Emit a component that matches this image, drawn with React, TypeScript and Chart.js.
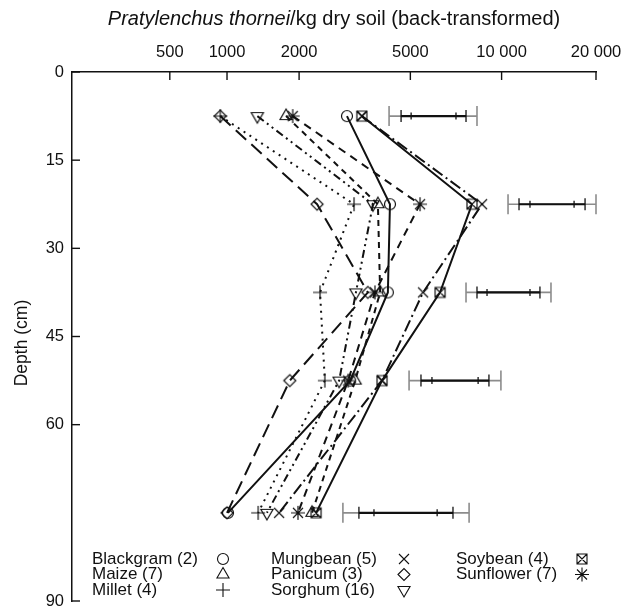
import React, { useEffect, useRef } from 'react';
import { Chart, registerables } from 'chart.js';

Chart.register(...registerables);

// ---------- data ----------
const depths = [7.5, 22.5, 37.5, 52.5, 75];

const blackgram = [3010, 4260, 4190, 3090, 1010];
const maize = [1780, 3870, 3940, 3220, 2240];
const millet = [930, 3190, 2400, 2500, 1370];
const mungbean = [3400, 8640, 5520, 4000, 1670];
const panicum = [930, 2340, 3570, 1840, 1000];
const sorghum = [1360, 3720, 3240, 2820, 1490];
const soybean = [3400, 8010, 6290, 4000, 2320];
const sunflower = [1890, 5390, 3780, 3040, 1980];

const seriesNames = [
  'Blackgram (2)', 'Maize (7)', 'Millet (4)',
  'Mungbean (5)', 'Panicum (3)', 'Sorghum (16)',
  'Soybean (4)', 'Sunflower (7)',
];
const seriesValues = [blackgram, maize, millet, mungbean, panicum, sorghum, soybean, sunflower];

// LSD bars (outer, middle, inner ... inner, middle, outer)
const lsdDepths = [7.5, 22.5, 37.5, 52.5, 75];
const lsd1 = [4230, 4650, 5030, 7100, 7660, 8320];
const lsd2 = [10490, 11380, 12340, 17050, 18470, 20000];
const lsd3 = [7660, 8320, 8970, 12340, 13280, 14400];
const lsd4 = [4950, 5430, 5910, 8390, 9100, 9950];
const lsd5 = [2910, 3320, 3750, 6150, 6940, 7840];
const lsdBars = [lsd1, lsd2, lsd3, lsd4, lsd5];

const xTickValues = [500, 1000, 2000, 5000, 10000, 20000];
const yTickValues = [0, 15, 30, 45, 60, 90];

const xTitleItalic = 'Pratylenchus thornei';
const xTitleRest = '/kg dry soil (back-transformed)';
const yTitle = 'Depth (cm)';

// ---------- helpers ----------
const OFFSET = 500;
const tf = (v: number) => Math.log10(v + OFFSET);
const fmt = (v: number) => (v >= 10000 ? String(v).replace(/(\d)(?=(\d{3})+$)/g, '$1 ') : String(v));

const FONT = "'Liberation Sans', Arial, Helvetica, sans-serif";
const INK = '#111';

type MarkerKind = 'circle' | 'triangle' | 'cross' | 'crossRot' | 'diamond' | 'triDown' | 'boxX' | 'star';
const markerKinds: MarkerKind[] = ['circle', 'triangle', 'cross', 'crossRot', 'diamond', 'triDown', 'boxX', 'star'];
const dashes: number[][] = [[], [6, 5], [2, 5], [12, 4, 2, 4], [14, 7], [8, 4, 2, 4, 2, 4], [], [8, 6]];

function drawMarker(ctx: CanvasRenderingContext2D, kind: MarkerKind, x: number, y: number) {
  ctx.beginPath();
  const r = 6;
  switch (kind) {
    case 'circle':
      ctx.arc(x, y, 5.5, 0, Math.PI * 2);
      break;
    case 'triangle':
    case 'triDown': {
      const s = kind === 'triangle' ? 1 : -1;
      const R = 7;
      ctx.moveTo(x, y - s * R);
      ctx.lineTo(x + R * Math.sin((2 * Math.PI) / 3), y + s * R * 0.5);
      ctx.lineTo(x - R * Math.sin((2 * Math.PI) / 3), y + s * R * 0.5);
      ctx.closePath();
      break;
    }
    case 'cross':
      ctx.moveTo(x - 7, y); ctx.lineTo(x + 7, y);
      ctx.moveTo(x, y - 7); ctx.lineTo(x, y + 7);
      break;
    case 'crossRot':
      ctx.moveTo(x - 5, y - 5); ctx.lineTo(x + 5, y + 5);
      ctx.moveTo(x + 5, y - 5); ctx.lineTo(x - 5, y + 5);
      break;
    case 'diamond':
      ctx.moveTo(x - r, y); ctx.lineTo(x, y - r); ctx.lineTo(x + r, y); ctx.lineTo(x, y + r);
      ctx.closePath();
      break;
    case 'boxX':
      ctx.rect(x - 5, y - 5, 10, 10);
      ctx.moveTo(x - 5, y - 5); ctx.lineTo(x + 5, y + 5);
      ctx.moveTo(x + 5, y - 5); ctx.lineTo(x - 5, y + 5);
      break;
    case 'star':
      ctx.moveTo(x - 7, y); ctx.lineTo(x + 7, y);
      ctx.moveTo(x, y - 7); ctx.lineTo(x, y + 7);
      ctx.moveTo(x - 5, y - 5); ctx.lineTo(x + 5, y + 5);
      ctx.moveTo(x + 5, y - 5); ctx.lineTo(x - 5, y + 5);
      break;
  }
  ctx.stroke();
}

function markerImage(kind: MarkerKind): HTMLCanvasElement {
  const c = document.createElement('canvas');
  c.width = 18; c.height = 18;
  const g = c.getContext('2d') as CanvasRenderingContext2D;
  g.strokeStyle = INK;
  g.lineWidth = 1.2;
  drawMarker(g, kind, 9, 9);
  return c;
}

const decorPlugin = {
  id: 'decor',
  afterDraw(chart: any) {
    const ctx: CanvasRenderingContext2D = chart.ctx;
    const xs = chart.scales.x;
    const ys = chart.scales.y;
    const area = chart.chartArea;
    ctx.save();
    const seg = (x1: number, y1: number, x2: number, y2: number) => {
      ctx.beginPath(); ctx.moveTo(x1, y1); ctx.lineTo(x2, y2); ctx.stroke();
    };
    // inward ticks
    ctx.strokeStyle = INK; ctx.lineWidth = 1.4; ctx.setLineDash([]);
    xTickValues.forEach((v) => {
      const px = xs.getPixelForValue(tf(v));
      seg(px, area.top, px, area.top + 8);
    });
    yTickValues.forEach((v) => {
      const py = ys.getPixelForValue(v);
      seg(area.left, py, area.left + 8, py);
    });

    // LSD bars
    lsdBars.forEach((bar, i) => {
      const py = ys.getPixelForValue(lsdDepths[i]);
      const p = bar.map((v) => xs.getPixelForValue(tf(v)));
      ctx.strokeStyle = '#8c8c8c'; ctx.lineWidth = 1.6;
      seg(p[0], py, p[5], py);
      seg(p[0], py - 10, p[0], py + 10);
      seg(p[5], py - 10, p[5], py + 10);
      ctx.strokeStyle = INK; ctx.lineWidth = 2.2;
      seg(p[1], py, p[4], py);
      ctx.lineWidth = 1.3;
      seg(p[1], py - 6, p[1], py + 6);
      seg(p[4], py - 6, p[4], py + 6);
      seg(p[2], py - 3.5, p[2], py + 3.5);
      seg(p[3], py - 3.5, p[3], py + 3.5);
    });

    // x title (mixed italic)
    ctx.fillStyle = INK;
    ctx.textBaseline = 'middle';
    ctx.textAlign = 'left';
    ctx.font = `italic 20px ${FONT}`;
    const w1 = ctx.measureText(xTitleItalic).width;
    ctx.font = `20px ${FONT}`;
    const w2 = ctx.measureText(xTitleRest).width;
    const cx = (area.left + area.right) / 2;
    const startX = cx - (w1 + w2) / 2;
    ctx.font = `italic 20px ${FONT}`;
    ctx.fillText(xTitleItalic, startX, 19);
    ctx.font = `20px ${FONT}`;
    ctx.fillText(xTitleRest, startX + w1, 19);

    // y title
    ctx.save();
    ctx.translate(22, 343);
    ctx.rotate(-Math.PI / 2);
    ctx.textAlign = 'center';
    ctx.font = `17.5px ${FONT}`;
    ctx.fillText(yTitle, 0, 0);
    ctx.restore();

    // legend
    const colText = [92, 271, 456];
    const colSym = [223, 404, 582];
    const rowY = [559, 574.5, 590];
    ctx.font = `17px ${FONT}`;
    ctx.textAlign = 'left';
    seriesNames.forEach((name, i) => {
      const col = Math.floor(i / 3);
      const row = i % 3;
      ctx.fillStyle = INK;
      ctx.fillText(name, colText[col], rowY[row]);
      ctx.strokeStyle = INK; ctx.lineWidth = 1.1; ctx.setLineDash([]);
      drawMarker(ctx, markerKinds[i], colSym[col], rowY[row]);
    });
    ctx.restore();
  },
};

export default function App() {
  const ref = useRef<HTMLCanvasElement | null>(null);
  useEffect(() => {
    if (!ref.current) return;
    const datasets = seriesValues.map((vals, i) => ({
      label: seriesNames[i],
      data: vals.map((v, j) => ({ x: tf(v), y: depths[j] })),
      showLine: true,
      borderColor: INK,
      borderWidth: 2,
      borderDash: dashes[i],
      backgroundColor: 'transparent',
      pointStyle: markerImage(markerKinds[i]) as any,
      pointRadius: 7,
      pointHoverRadius: 7,
    }));
    const chart = new Chart(ref.current, {
      type: 'scatter',
      data: { datasets },
      plugins: [decorPlugin],
      options: {
        animation: false,
        responsive: true,
        maintainAspectRatio: false,
        layout: { padding: { left: 0, top: 0, right: 48, bottom: 8 } },
        plugins: { legend: { display: false }, tooltip: { enabled: false }, title: { display: false } },
        scales: {
          x: {
            type: 'linear',
            position: 'top',
            min: tf(0),
            max: tf(20000),
            grid: { display: false, drawTicks: false },
            border: { display: true, color: INK, width: 1.5 },
            afterBuildTicks: (scale: any) => {
              scale.ticks = xTickValues.map((v) => ({ value: tf(v) }));
            },
            afterFit: (scale: any) => {
              scale.height = 72;
              scale.paddingLeft = 0;
              scale.paddingRight = 0;
            },
            ticks: {
              padding: 10,
              maxRotation: 0,
              autoSkip: false,
              color: INK,
              font: { family: FONT, size: 16.5 },
              callback: (_v: any, idx: number) => fmt(xTickValues[idx]),
            },
          },
          y: {
            type: 'linear',
            reverse: true,
            min: 0,
            max: 90,
            grid: { display: false, drawTicks: false },
            border: { display: true, color: INK, width: 1.5 },
            afterBuildTicks: (scale: any) => {
              scale.ticks = yTickValues.map((v) => ({ value: v }));
            },
            afterFit: (scale: any) => {
              scale.width = 72;
              scale.paddingTop = 0;
              scale.paddingBottom = 0;
            },
            ticks: {
              padding: 8,
              autoSkip: false,
              color: INK,
              font: { family: FONT, size: 16.5 },
              callback: (v: any) => String(v),
            },
          },
        },
      },
    });
    return () => chart.destroy();
  }, []);
  return (
    <div style={{ position: 'fixed', left: 0, top: 0, width: 644, height: 610, background: '#fff' }}>
      <canvas ref={ref} />
    </div>
  );
}
